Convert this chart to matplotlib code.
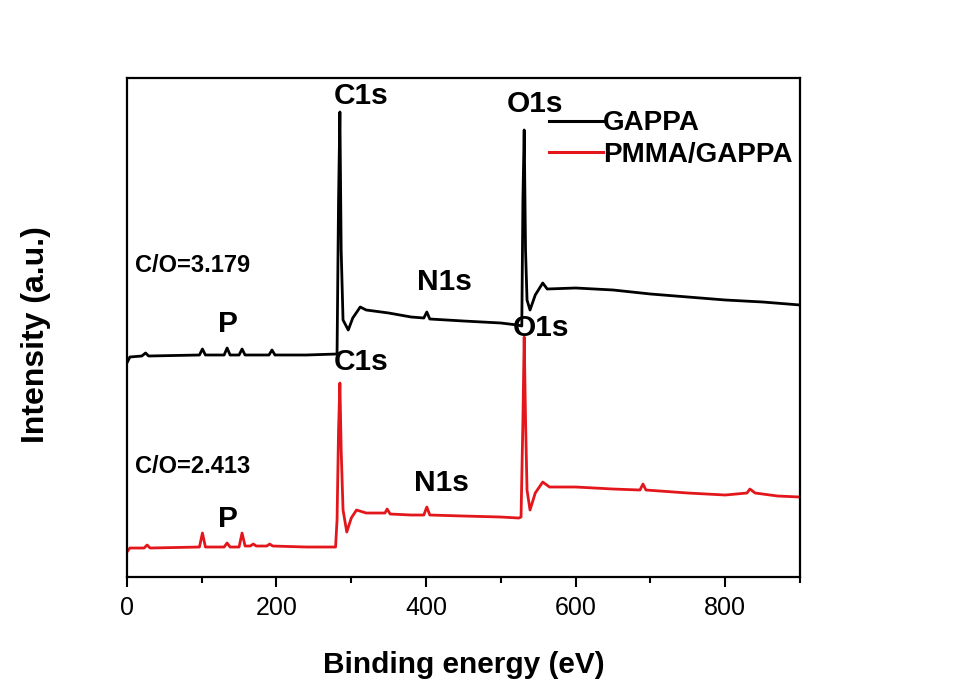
"""XPS survey spectra of GAPPA and PMMA/GAPPA."""
import numpy as np
import matplotlib
matplotlib.use("Agg")
import matplotlib.pyplot as plt
from matplotlib.ticker import MultipleLocator

# ---- data (binding energy in eV, intensity in a.u.) ----
gappa_ev = [0, 4, 20, 25, 29, 97, 101, 105, 130, 134, 138, 150, 154, 158, 162,
            190, 194, 198, 240, 281, 283, 284.8, 286.5, 289, 296, 302, 312, 320,
            350, 380, 397, 401, 405, 450, 500, 522, 528, 529.5, 531.2, 533, 535,
            539, 546, 556, 562, 600, 650, 700, 750, 800, 850, 900]
gappa_int = [214, 220, 221, 224, 221, 222, 228, 222, 222, 229, 222, 222, 228, 222, 222,
             222, 227, 222, 222, 223, 377, 465, 327, 257, 247, 259, 270, 267,
             264, 260, 259, 265, 258, 256, 254, 252, 251, 377, 447, 327, 277,
             267, 282, 294, 288, 289, 287, 283, 280, 277, 275, 272]

pmma_ev = [0, 4, 23, 27, 31, 97, 101, 105, 130, 134, 138, 150, 154, 158, 165,
           169, 173, 187, 191, 195, 240, 279, 281, 283, 284.8, 286.5, 289, 294,
           300, 307, 320, 345, 348, 352, 380, 397, 401, 405, 450, 500, 524, 527,
           529.5, 531.2, 533, 535, 539, 546, 556, 565, 600, 650, 686, 690, 694,
           750, 800, 829, 833, 840, 870, 900]
pmma_int = [25, 29, 29, 32, 29, 30, 44, 30, 30, 34, 30, 30, 44, 31, 31,
            33, 31, 31, 33, 31, 30, 30, 57, 147, 194, 127, 67, 45,
            59, 67, 64, 64, 68, 63, 62, 62, 70, 62, 61, 60, 59, 60,
            157, 240, 157, 87, 67, 84, 95, 90, 90, 88, 87, 93, 87,
            84, 82, 84, 88, 84, 81, 80]

BLACK = "#000000"
RED = "#e3161b"

plt.rcParams.update({
    "font.family": ["Liberation Sans", "DejaVu Sans"],
    "axes.linewidth": 1.6,
})

fig = plt.figure(figsize=(9.54, 6.84), dpi=100)
ax = fig.add_axes([0.133, 0.1564, 0.7056, 0.7296])

ax.plot(gappa_ev, gappa_int, color=BLACK, lw=2.0, label="GAPPA")
ax.plot(pmma_ev, pmma_int, color=RED, lw=2.0, label="PMMA/GAPPA")

ax.set_xlim(0, 900)
ax.set_ylim(0, 499)
ax.set_yticks([])
ax.xaxis.set_major_locator(MultipleLocator(200))
ax.xaxis.set_minor_locator(MultipleLocator(100))
ax.tick_params(axis="x", which="major", direction="out", length=7, width=1.5,
               labelsize=18, pad=7)
ax.tick_params(axis="x", which="minor", direction="out", length=4, width=1.5)

ax.set_xlabel("Binding energy (eV)", fontsize=21.5, fontweight="bold", labelpad=22)
ax.set_ylabel("Intensity (a.u.)", fontsize=23, fontweight="bold")
ax.yaxis.set_label_coords(-0.112, 0.485)

lab = dict(ha="center", va="center", fontsize=21.5, fontweight="bold")
# GAPPA peak labels
ax.text(313, 481, "C1s", **lab)
ax.text(546, 473, "O1s", **lab)
ax.text(424, 295, "N1s", **lab)
ax.text(135, 253, "P", **lab)
# PMMA/GAPPA peak labels
ax.text(313, 215, "C1s", **lab)
ax.text(554, 249, "O1s", **lab)
ax.text(420, 94, "N1s", **lab)
ax.text(135, 58, "P", **lab)

ax.text(11, 311, "C/O=3.179", ha="left", va="center", fontsize=17, fontweight="bold")
ax.text(11, 111, "C/O=2.413", ha="left", va="center", fontsize=17, fontweight="bold")

leg = ax.legend(loc="upper left", bbox_to_anchor=(0.627, 0.935), frameon=False,
                handlelength=1.95, handletextpad=0.0, labelspacing=0.2,
                borderpad=0, borderaxespad=0,
                prop={"size": 20, "weight": "bold"})
for line in leg.get_lines():
    line.set_linewidth(2.2)

fig.savefig("out.png", dpi=100)
